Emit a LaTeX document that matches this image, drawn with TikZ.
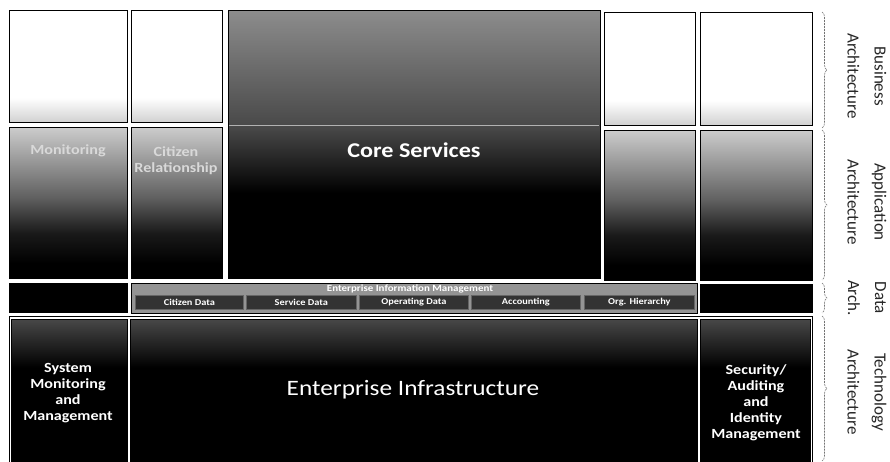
\documentclass[tikz,border=0pt]{standalone}
\usepackage{fontspec}
\setmainfont{Carlito}
\newfontfamily\widefont[FakeStretch=1.15]{Carlito}
\usetikzlibrary{decorations.pathreplacing}

% vertical shadings, the box is mapped onto 25bp..75bp
\pgfdeclareverticalshading{bizshade}{100bp}{color(0bp)=(black!18); color(25bp)=(black!18); color(36bp)=(white); color(100bp)=(white)}
\pgfdeclareverticalshading{appshade}{100bp}{color(0bp)=(black); color(30bp)=(black); color(40bp)=(black!90); color(52bp)=(black!62); color(75bp)=(black!20); color(100bp)=(black!20)}
\pgfdeclareverticalshading{coreshade}{100bp}{color(0bp)=(black); color(41bp)=(black); color(53bp)=(black!72); color(75bp)=(black!45); color(100bp)=(black!45)}
\pgfdeclareverticalshading{techshade}{100bp}{color(0bp)=(black); color(58bp)=(black); color(75bp)=(black!72); color(100bp)=(black!72)}

\begin{document}
\begin{tikzpicture}[x=1pt,y=-1pt,
    cell/.style={draw=black, line width=0.8pt, inner sep=0pt, anchor=north west},
    bizcell/.style={cell, shading=bizshade},
    appcell/.style={cell, shading=appshade},
    corecell/.style={cell, shading=coreshade},
    techcell/.style={cell, shading=techshade},
    darkcell/.style={cell, fill=black},
    subcell/.style={cell, draw=black!60, fill=black!80, text=white, font=\widefont\fontsize{9}{10}\selectfont\bfseries},
    celltext/.style={text=white, align=center, font=\widefont\fontsize{14}{16}\selectfont\bfseries},
    bigtext/.style={text=white, font=\widefont\fontsize{22}{24}\selectfont},
    archlabel/.style={rotate=-90, align=center, text=black!85, font=\fontsize{17}{27}\selectfont},
    archbrace/.style={decorate, decoration={brace, amplitude=5pt}, draw=black!55, dash pattern=on 2pt off 1pt, line width=0.6pt}]
    \fill[white] (0,0) rectangle (890,462);
    \useasboundingbox (0,0) rectangle (890,462);

    % business row
    \node[bizcell, minimum width=118pt, minimum height=112pt] (bmon) at (9,10) {};
    \node[bizcell, minimum width=91pt, minimum height=112pt] (bcit) at (131,10) {};
    \node[bizcell, minimum width=91pt, minimum height=113pt] (bfour) at (604,12) {};
    \node[bizcell, minimum width=112pt, minimum height=113pt] (bfive) at (700,12) {};

    % core services over two rows
    \node[corecell, minimum width=372pt, minimum height=268pt] (core) at (228,10) {};
    \draw[black!30, line width=1pt] (229,126) -- (599,126);

    % application row
    \node[appcell, minimum width=118pt, minimum height=151pt] (amon) at (9,127) {};
    \node[appcell, minimum width=91pt, minimum height=151pt] (acit) at (131,127) {};
    \node[appcell, minimum width=91pt, minimum height=150pt] (afour) at (604,130) {};
    \node[appcell, minimum width=112pt, minimum height=150pt] (afive) at (700,130) {};
    \node[celltext, text=white!85!black] (monlbl) at (68,151) {Monitoring};
    \node[celltext, text=white!85!black] (citlbl) at (176,161) {Citizen\\Relationship};
    \node[text=white, font=\widefont\fontsize{21}{24}\selectfont\bfseries] (corelbl) at (414,150) {Core Services};

    % data row
    \node[darkcell, minimum width=118pt, minimum height=29pt] (dmon) at (9,283) {};
    \node[cell, fill=black!42, minimum width=566pt, minimum height=30pt] (eim) at (131,283) {};
    \node[text=white, font=\widefont\fontsize{9.5}{10}\selectfont\bfseries] (eimlbl) at (410,289) {Enterprise Information Management};
    \node[subcell, minimum width=108pt, minimum height=14pt] (citdata) at (135,295) {Citizen Data};
    \node[subcell, minimum width=110pt, minimum height=14pt] (srvdata) at (246,295) {Service Data};
    \node[subcell, minimum width=109pt, minimum height=14pt] (opdata) at (359,295) {Operating Data};
    \node[subcell, minimum width=109pt, minimum height=14pt] (acct) at (471,295) {Accounting};
    \node[subcell, minimum width=110pt, minimum height=14pt] (orgh) at (584,295) {Org. Hierarchy};
    \node[darkcell, minimum width=112pt, minimum height=28pt] (dfive) at (700,284) {};

    % technology row
    \node[cell, minimum width=803pt, minimum height=146pt] (techframe) at (9,316) {};
    \node[techcell, minimum width=116pt, minimum height=142pt] (tsys) at (11,319) {};
    \node[techcell, minimum width=567pt, minimum height=142pt] (tent) at (130,319) {};
    \node[techcell, minimum width=110pt, minimum height=142pt] (tsec) at (700,319) {};
    \node[celltext] (syslbl) at (68,393) {System\\Monitoring\\and\\Management};
    \node[bigtext] (entlbl) at (413,390) {Enterprise Infrastructure};
    \node[celltext] (seclbl) at (756,403) {Security/\\Auditing\\and\\Identity\\Management};

    % braces and layer names
    \coordinate (bizt) at (822,12);
    \coordinate (bizb) at (822,128);
    \coordinate (appt) at (822,130);
    \coordinate (appb) at (822,280);
    \coordinate (datt) at (822,283);
    \coordinate (datb) at (822,313);
    \coordinate (tect) at (822,316);
    \coordinate (tecb) at (822,461);
    \draw[archbrace] (bizt) -- (bizb);
    \draw[archbrace] (appt) -- (appb);
    \draw[archbrace] (datt) -- (datb);
    \draw[archbrace] (tect) -- (tecb);
    \node[archlabel] (bizlbl) at (867,76) {Business\\Architecture};
    \node[archlabel] (applbl) at (867,202) {Application\\Architecture};
    \node[archlabel] (datlbl) at (867,298) {Data\\Arch.};
    \node[archlabel] (teclbl) at (867,392) {Technology\\Architecture};
\end{tikzpicture}
\end{document}
